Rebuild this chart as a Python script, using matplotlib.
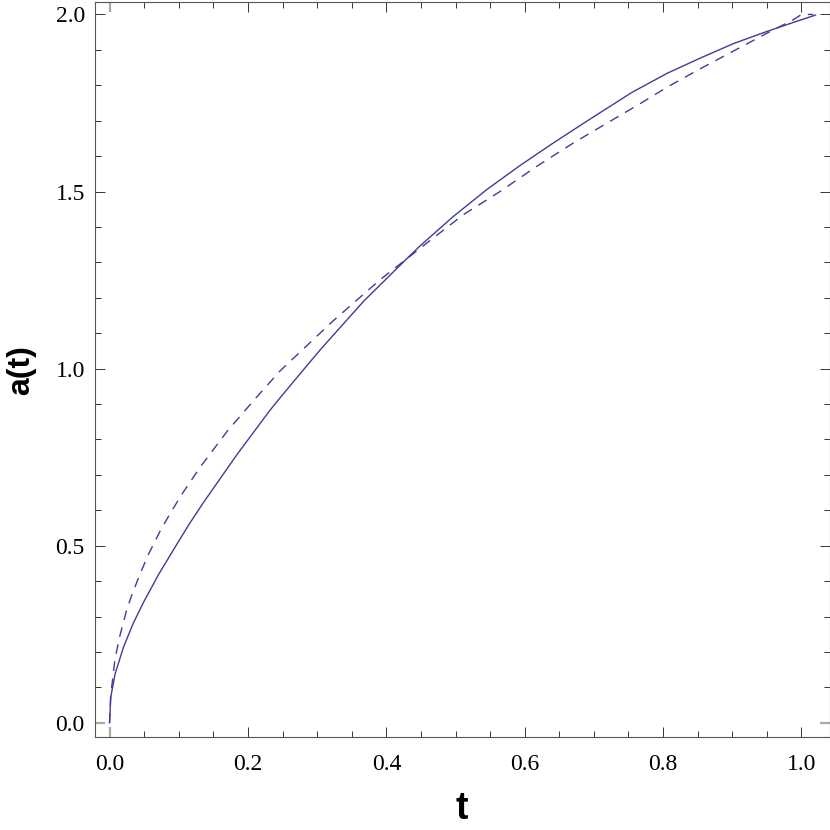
import numpy as np
import matplotlib
matplotlib.use('Agg')
import matplotlib.pyplot as plt
from matplotlib.ticker import MultipleLocator

# values
t_solid = [0.0, 0.0017, 0.008, 0.02, 0.034, 0.049, 0.0706, 0.095, 0.1154,
           0.1357, 0.184, 0.232, 0.2466, 0.273, 0.3044, 0.367, 0.432, 0.449,
           0.497, 0.5455, 0.5936, 0.642, 0.690, 0.755, 0.806, 0.854, 0.902,
           0.950, 0.989, 1.020]
a_solid = [0.0, 0.072, 0.138, 0.213, 0.280, 0.340, 0.418, 0.497, 0.562,
           0.622, 0.757, 0.883, 0.918, 0.980, 1.053, 1.190, 1.315, 1.347,
           1.430, 1.506, 1.574, 1.638, 1.699, 1.780, 1.834, 1.877, 1.918,
           1.952, 1.978, 1.998]

t_dash = [0.0, 0.0017, 0.008, 0.0152, 0.0249, 0.032, 0.044, 0.056, 0.073,
          0.0875, 0.1044, 0.131, 0.1695, 0.210, 0.2466, 0.3237, 0.391,
          0.4587, 0.5116, 0.565, 0.618, 0.671, 0.724, 0.765, 0.806,
          0.854, 0.902, 0.950, 0.989, 1.0, 1.017]
a_dash = [0.0, 0.078, 0.182, 0.248, 0.320, 0.360, 0.420, 0.475, 0.541,
          0.591, 0.645, 0.722, 0.822, 0.914, 0.994, 1.136, 1.251,
          1.355, 1.435, 1.501, 1.572, 1.638, 1.699, 1.746, 1.795,
          1.847, 1.897, 1.947, 1.986, 2.0, 2.0]

x_ticks = [0.0, 0.2, 0.4, 0.6, 0.8, 1.0]
y_ticks = [0.0, 0.5, 1.0, 1.5, 2.0]

col = '#3d3d99'

fig = plt.figure(figsize=(8.3, 8.3), dpi=100)
ax = fig.add_axes([0.1139, 0.1122, 0.8855, 0.8849])

ax.plot(t_solid, a_solid, '-', color=col, lw=1.0)
ax.plot(t_dash, a_dash, '--', color=col, lw=1.0, dashes=(7, 5.5))

ax.set_xlim(-0.0217, 1.0405)
ax.set_ylim(-0.0396, 2.034)

for sp in ax.spines.values():
    sp.set_color('#555555')
    sp.set_linewidth(0.8)

ax.set_xticks(x_ticks)
ax.set_yticks(y_ticks)
ax.set_xticklabels(['%.1f' % v for v in x_ticks])
ax.set_yticklabels(['%.1f' % v for v in y_ticks])
ax.xaxis.set_minor_locator(MultipleLocator(0.05))
ax.yaxis.set_minor_locator(MultipleLocator(0.1))
ax.tick_params(which='both', direction='in', top=True, right=True,
               color='#333333', width=0.7)
ax.tick_params(which='major', length=7.5,
               labelsize=17, labelfontfamily='Liberation Serif')
ax.tick_params(axis='x', which='major', pad=12)
ax.tick_params(axis='y', which='major', pad=7)
ax.tick_params(which='minor', length=4.5)

# zero ticks drawn lighter, as in the reference
for tick in ax.xaxis.get_major_ticks()[:1] + ax.yaxis.get_major_ticks()[:1]:
    for ln in (tick.tick1line, tick.tick2line):
        ln.set_markeredgecolor('#aaaaaa')
        ln.set_markeredgewidth(1.6)

ax.set_xlabel('t', fontsize=27, fontweight='bold',
              family='Liberation Sans', labelpad=12)
ax.set_ylabel('a(t)', fontsize=23, fontweight='bold',
              family='Liberation Sans', labelpad=14)

fig.savefig('out.png', dpi=100)
